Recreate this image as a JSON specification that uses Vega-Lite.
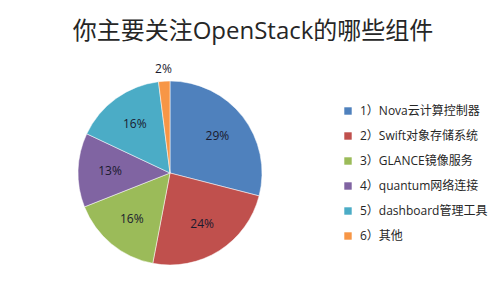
{
  "$schema": "https://vega.github.io/schema/vega-lite/v6.json",
  "width": 500,
  "height": 306,
  "autosize": {"type": "fit", "contains": "padding"},
  "padding": {"top": 20, "left": 18, "right": 12, "bottom": 12},
  "background": "white",
  "title": {
    "text": "你主要关注OpenStack的哪些组件",
    "fontSize": 24,
    "font": "Open Sans, Noto Sans CJK SC",
    "fontWeight": "normal",
    "color": "#262626",
    "anchor": "middle",
    "frame": "bounds",
    "offset": 8
  },
  "data": {
    "values": [
      {"i": 1, "comp": "1）Nova云计算控制器", "v": 29, "label": "29%"},
      {"i": 2, "comp": "2）Swift对象存储系统", "v": 24, "label": "24%"},
      {"i": 3, "comp": "3）GLANCE镜像服务", "v": 16, "label": "16%"},
      {"i": 4, "comp": "4）quantum网络连接", "v": 13, "label": "13%"},
      {"i": 5, "comp": "5）dashboard管理工具", "v": 16, "label": "16%"},
      {"i": 6, "comp": "6）其他", "v": 2, "label": "2%"}
    ]
  },
  "encoding": {
    "theta": {"field": "v", "type": "quantitative", "stack": true},
    "order": {"field": "i", "type": "quantitative"}
  },
  "layer": [
    {
      "mark": {"type": "arc", "outerRadius": 92, "stroke": "white", "strokeWidth": 0.5},
      "encoding": {
        "color": {
          "field": "comp",
          "type": "nominal",
          "scale": {
            "domain": ["1）Nova云计算控制器", "2）Swift对象存储系统", "3）GLANCE镜像服务", "4）quantum网络连接", "5）dashboard管理工具", "6）其他"],
            "range": ["#4F81BD", "#C0504D", "#9BBB59", "#8064A2", "#4BACC6", "#F79646"]
          },
          "legend": {
            "title": null,
            "orient": "right",
            "offset": 20,
            "symbolType": "square",
            "symbolSize": 55,
            "symbolStrokeWidth": 0,
            "labelFontSize": 12,
            "labelFont": "Open Sans, Noto Sans CJK SC",
            "labelColor": "#262626",
            "labelLimit": 220,
            "rowPadding": 13,
            "labelOffset": 6
          }
        }
      }
    },
    {
      "mark": {"type": "text", "radius": 60, "fontSize": 12, "font": "Open Sans, Noto Sans CJK SC", "fill": "#1a1a2e"},
      "encoding": {
        "text": {"condition": {"test": "datum.v < 5", "value": ""}, "field": "label"}
      }
    },
    {
      "mark": {"type": "text", "radius": 104, "fontSize": 12, "font": "Open Sans, Noto Sans CJK SC", "fill": "#1a1a2e"},
      "encoding": {
        "text": {"condition": {"test": "datum.v >= 5", "value": ""}, "field": "label"}
      }
    }
  ],
  "config": {
    "view": {"stroke": null},
    "legend": {"layout": {"right": {"anchor": "middle"}}}
  }
}
